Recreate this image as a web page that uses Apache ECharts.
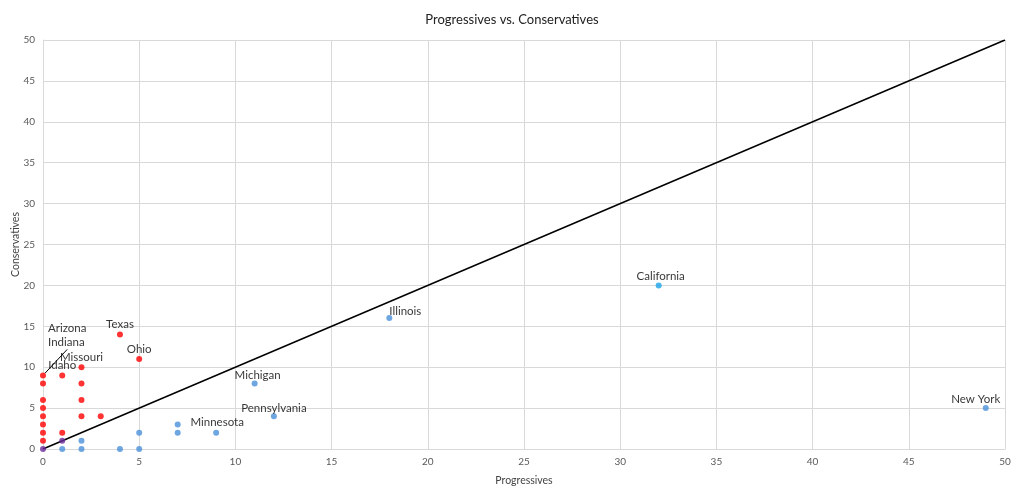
<!DOCTYPE html>
<html>
<head>
<meta charset="utf-8">
<script src="https://cdn.jsdelivr.net/npm/echarts@6/dist/echarts.min.js"></script>
<style>html,body{margin:0;padding:0;background:#fff}#c{width:1024px;height:495px}</style>
</head>
<body>
<div id="c"></div>
<script>
// Data
var redX = [0,0,0,0,0,0,0,0,1,1,2,2,2,2,3,4,5];
var redY = [9,8,6,5,4,3,2,1,9,2,10,8,6,4,4,14,11];
var redNames = ['Arizona\nIndiana','','','','','','','','Idaho','','Missouri','','','','','Texas','Ohio'];
var blueX = [1,2,2,4,5,5,7,7,9,11,12,18,49];
var blueY = [0,1,0,0,2,0,3,2,2,8,4,16,5];
var blueNames = ['','','','','','','','','Minnesota','Michigan','Pennsylvania','Illinois','New York'];
var caX = [32], caY = [20], caNames = ['California'];
var purpleX = [0,1], purpleY = [0,1];
var diagonal = [0, 50];

var labelOffsets = {
  'Arizona\nIndiana': [0,0],
  'Idaho': [1,2],
  'Missouri': [0,-1],
  'Texas': [-1,0],
  'Ohio': [0,3],
  'Minnesota': [1,0],
  'Michigan': [3,2],
  'Pennsylvania': [0,2],
  'Illinois': [16,3],
  'California': [2,1],
  'New York': [-10,1]
};

var FONT = 'Lato, "Open Sans", sans-serif';
var labelFont = {color:'#000', fontSize:11.5, fontFamily:FONT, lineHeight:14};

function build(xs, ys, names) {
  return xs.map(function(x, i){
    var n = names ? names[i] : '';
    var item = {value:[x, ys[i]], name:n};
    if (n) {
      item.label = Object.assign({show:true, formatter:'{b}', position:'top', distance:0,
        offset:labelOffsets[n]}, labelFont);
      if (n.indexOf('\n') >= 0) {
        item.labelLine = {show:true, lineStyle:{color:'#000', width:1}};
        item.label.align = 'left';
        item.label.width = 12;
        item.label.overflow = 'none';
      }
    }
    return item;
  });
}

var chart = echarts.init(document.getElementById('c'), null, {renderer:'canvas'});

chart.setOption({
  animation:false,
  title:{text:'Progressives vs. Conservatives', left:507, top:8, textAlign:'center',
    textStyle:{fontSize:13, fontWeight:'normal', color:'#222', fontFamily:FONT}},
  grid:{left:43, right:19, top:40, bottom:46, outerBoundsMode:'none', containLabel:false},
  xAxis:{type:'value', min:0, max:50, interval:5,
    name:'Progressives', nameLocation:'middle', nameGap:26, nameMoveOverlap:false,
    nameTextStyle:{fontSize:10.5, color:'#444', fontFamily:FONT},
    axisLine:{show:true, lineStyle:{color:'#d9d9d9'}}, axisTick:{show:false},
    axisLabel:{fontSize:10, color:'#595959', margin:8, fontFamily:FONT},
    splitLine:{show:true, lineStyle:{color:'#d9d9d9', width:1}}},
  yAxis:{type:'value', min:0, max:50, interval:5,
    name:'Conservatives', nameLocation:'middle', nameGap:22, nameMoveOverlap:false,
    nameTextStyle:{fontSize:10.5, color:'#444', fontFamily:FONT},
    axisLine:{show:true, lineStyle:{color:'#d9d9d9'}}, axisTick:{show:false},
    axisLabel:{fontSize:10, color:'#595959', margin:8, fontFamily:FONT},
    splitLine:{show:true, lineStyle:{color:'#d9d9d9', width:1}}},
  series:[
    {type:'line', data:[[diagonal[0],diagonal[0]],[diagonal[1],diagonal[1]]], symbol:'none',
      lineStyle:{color:'#000', width:1.5}, z:1, silent:true},
    {type:'scatter', data:build(blueX, blueY, blueNames), symbolSize:6,
      itemStyle:{color:'#4a90d9'}, z:3},
    {type:'scatter', data:build(caX, caY, caNames), symbolSize:6,
      itemStyle:{color:'#1aa3e8'}, z:3},
    {type:'scatter', data:build(redX, redY, redNames), symbolSize:6,
      itemStyle:{color:'#ff0000'}, z:3,
      labelLayout:function(p){
        if (p.dataIndex === 0) return {dx:5, dy:-23};
        return {};
      }},
    {type:'scatter', data:build(purpleX, purpleY, null), symbolSize:6,
      itemStyle:{color:'#6a2a9a'}, z:4}
  ]
});
</script>
</body>
</html>
